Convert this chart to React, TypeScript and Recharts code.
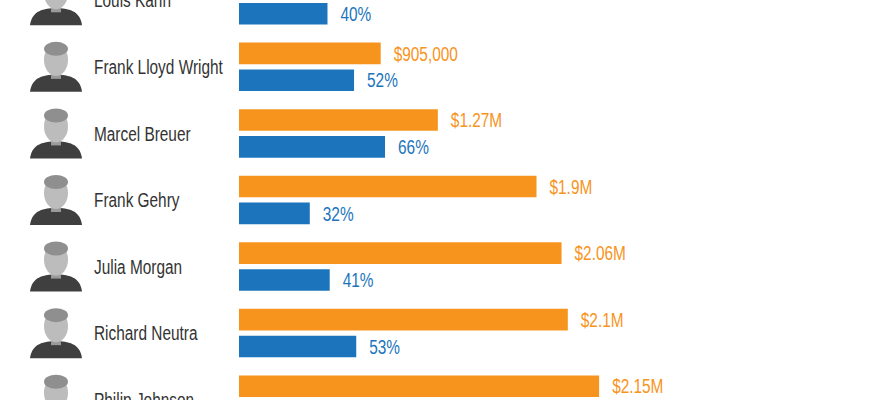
import React from "react";
import { BarChart, Bar, XAxis, YAxis, LabelList } from "recharts";

const architects = [
  "Louis Kahn",
  "Frank Lloyd Wright",
  "Marcel Breuer",
  "Frank Gehry",
  "Julia Morgan",
  "Richard Neutra",
  "Philip Johnson",
];
// median home value (bar length as drawn)
const priceValues = [null, 905000, 1270000, 1900000, 2060000, 2100000, 2300000];
const priceLabels = ["", "$905,000", "$1.27M", "$1.9M", "$2.06M", "$2.1M", "$2.15M"];
// percentage
const pctValues = [40, 52, 66, 32, 41, 53, null];

const ORANGE = "#F7941D";
const BLUE = "#1C75BC";
const FONT = "'Liberation Sans', Arial, sans-serif";
const SX = 0.77;

const data = architects.map((name, i) => ({
  name,
  price: priceValues[i],
  priceLabel: priceLabels[i],
  pct: pctValues[i],
  pctLabel: pctValues[i] == null ? "" : `${pctValues[i]}%`,
}));

const NarrowText = ({ x, y, color, children }: any) => (
  <text
    transform={`translate(${x},${y}) scale(${SX},1)`}
    x={0}
    y={0}
    dy="0.36em"
    fill={color}
    fontFamily={FONT}
    fontSize={20}
    textAnchor="start"
  >
    {children}
  </text>
);

const NameTick = (props: any) => {
  const { y, payload } = props;
  const cy = y;
  return (
    <g>
      <path
        d={`M30 ${cy + 25} C 32 ${cy + 10}, 44 ${cy + 8}, 56 ${cy + 8} C 68 ${cy + 8}, 80 ${cy + 10}, 82 ${cy + 25} Z`}
        fill="#3f3f3f"
      />
      <rect x={51} y={cy + 2} width={10} height={10} fill="#9a9a9a" />
      <ellipse cx={56} cy={cy - 7} rx={12} ry={16} fill="#bcbcbc" />
      <ellipse cx={56} cy={cy - 18} rx={12} ry={7} fill="#8f8f8f" />
      <NarrowText x={94} y={cy} color="#333333">
        {payload.value}
      </NarrowText>
    </g>
  );
};

const makeLabel = (color: string) => (props: any) => {
  const { x, y, width, height, value } = props;
  if (value == null || value === "") return null;
  return (
    <NarrowText x={x + width + 13} y={y + height / 2} color={color}>
      {value}
    </NarrowText>
  );
};

export default function App() {
  return (
    <div style={{ position: "absolute", top: -33, left: 0, width: 870, height: 466, background: "#fff" }}>
      <BarChart
        width={870}
        height={466}
        data={data}
        layout="vertical"
        margin={{ top: 0, right: 31, bottom: 0, left: 0 }}
        barGap={5.3}
      >
        <XAxis xAxisId="price" type="number" domain={[0, 3832000]} hide />
        <XAxis xAxisId="pct" type="number" domain={[0, 271.2]} hide />
        <YAxis
          type="category"
          dataKey="name"
          width={239}
          axisLine={false}
          tickLine={false}
          tick={<NameTick />}
          interval={0}
        />
        <Bar dataKey="price" xAxisId="price" fill={ORANGE} barSize={21.6} isAnimationActive={false}>
          <LabelList dataKey="priceLabel" content={makeLabel(ORANGE)} />
        </Bar>
        <Bar dataKey="pct" xAxisId="pct" fill={BLUE} barSize={21.6} isAnimationActive={false}>
          <LabelList dataKey="pctLabel" content={makeLabel(BLUE)} />
        </Bar>
      </BarChart>
    </div>
  );
}
